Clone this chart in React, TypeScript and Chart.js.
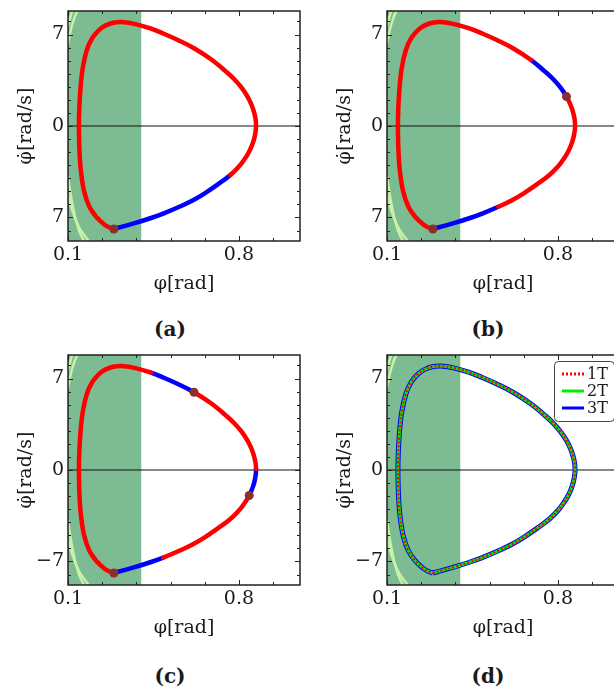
import React, { useEffect, useRef } from 'react';
import { Chart, registerables } from 'chart.js';
Chart.register(...registerables);

// ---------- data ----------
const orbitPhi = [
  0.288, 0.33, 0.38, 0.44, 0.49, 0.556, 0.61, 0.66, 0.715, 0.765,
  0.80, 0.826, 0.842, 0.855, 0.864, 0.869, 0.870, 0.868, 0.862, 0.852,
  0.835, 0.81, 0.78, 0.745, 0.69, 0.616, 0.55, 0.49, 0.44, 0.38,
  0.32, 0.285, 0.255, 0.23, 0.20, 0.177, 0.16, 0.15, 0.145, 0.146,
  0.152, 0.166, 0.188, 0.218, 0.25, 0.27, 0.288,
];
const orbitRate = [
  -7.88, -7.66, -7.40, -7.04, -6.70, -6.18, -5.70, -5.15, -4.45, -3.75,
  -3.1, -2.45, -1.95, -1.4, -0.85, -0.3, 0.1, 0.55, 1.05, 1.6,
  2.25, 2.95, 3.6, 4.2, 5.05, 5.95, 6.58, 7.08, 7.45, 7.78,
  7.95, 7.9, 7.7, 7.4, 6.75, 5.8, 4.4, 2.6, 0.6, -1.4,
  -3.3, -5.0, -6.2, -7.0, -7.55, -7.77, -7.88,
];

// light green boundary arcs at the left edge
const arcTop1Phi = [0.1, 0.108, 0.117];
const arcTop1Rate = [7.6, 8.2, 8.8];
const arcTop2Phi = [0.1, 0.112, 0.125, 0.138];
const arcTop2Rate = [6.3, 7.4, 8.2, 8.8];
const arcBot1Phi = [0.1, 0.108, 0.125, 0.145, 0.165];
const arcBot1Rate = [-3.8, -4.9, -6.6, -8.0, -8.8];
const arcBot2Phi = [0.1, 0.12, 0.15, 0.185];
const arcBot2Rate = [-5.3, -6.6, -7.9, -8.8];

const xMin = 0.1;
const xMax = 1.05;
const yMin = -8.8;
const yMax = 8.8;
const xTickValues = [0.1, 0.24, 0.38, 0.52, 0.66, 0.8, 0.94];
const xLabelValues = [0.1, 0.8];
const xLabelTexts = ['0.1', '0.8'];
const yTickValues = [-8, -7, -6, -5, -4, -3, -2, -1, 0, 1, 2, 3, 4, 5, 6, 7, 8];
const yLabelValues = [-7, 0, 7];
const greenZoneEnd = 0.4;

// blue (controlled) stretches as orbit index ranges, and marker indices
const blueA = [[0, 9]];
const blueB = [[0, 5], [20, 24]];
const blueC = [[0, 4], [12, 16], [25, 28]];
const dotsA = [0];
const dotsB = [0, 20];
const dotsC = [0, 12, 25];
const legendLabels = ['1T', '2T', '3T'];

// ---------- styles ----------
const FONT = "'DejaVu Serif', serif";
const TXT = '#1a1a1a';
const RED = '#ff0000';
const BLUE = '#0000ff';
const GREENLINE = '#00ee00';
const DOT = '#8b2e2e';
const ZONE = '#7dbb92';
const ARC = '#c9f2a8';

const zip = (xs: number[], ys: number[]) => xs.map((x, i) => ({ x, y: ys[i] }));

const framePlugin = {
  id: 'frame',
  beforeDatasetsDraw(chart: any) {
    const { ctx, chartArea: a, scales } = chart;
    const gx = scales.x.getPixelForValue(greenZoneEnd);
    ctx.save();
    ctx.fillStyle = ZONE;
    ctx.fillRect(a.left, a.top, gx - a.left, a.bottom - a.top);
    ctx.restore();
  },
  afterDatasetsDraw(chart: any) {
    const { ctx, chartArea: a, scales } = chart;
    const x = scales.x;
    const y = scales.y;
    ctx.save();
    ctx.strokeStyle = '#222';
    ctx.lineWidth = 1;
    ctx.beginPath();
    x.ticks.forEach((t: any) => {
      const px = Math.round(x.getPixelForValue(t.value)) + 0.5;
      const major = xLabelValues.some((v) => Math.abs(v - t.value) < 1e-6);
      const L = major ? 5 : 3;
      ctx.moveTo(px, a.bottom); ctx.lineTo(px, a.bottom - L);
      ctx.moveTo(px, a.top); ctx.lineTo(px, a.top + L);
    });
    y.ticks.forEach((t: any) => {
      const py = Math.round(y.getPixelForValue(t.value)) + 0.5;
      const major = yLabelValues.includes(t.value);
      const L = major ? 5 : 3;
      ctx.moveTo(a.left, py); ctx.lineTo(a.left + L, py);
      ctx.moveTo(a.right, py); ctx.lineTo(a.right - L, py);
    });
    ctx.stroke();
    ctx.lineWidth = 1.5;
    ctx.strokeStyle = '#222';
    ctx.strokeRect(a.left, a.top, a.right - a.left, a.bottom - a.top);
    ctx.restore();
  },
};

const legendPlugin = {
  id: 'insetLegend',
  afterDraw(chart: any, _args: any, opts: any) {
    if (!opts || !opts.show) return;
    const { ctx, chartArea: a } = chart;
    const items = chart.data.datasets.filter((d: any) => d.legendOrder !== undefined)
      .sort((p: any, q: any) => p.legendOrder - q.legendOrder);
    const bx = a.right - 65;
    const by = a.top + 6;
    const bw = 60;
    const bh = 60;
    ctx.save();
    ctx.fillStyle = '#fff';
    ctx.strokeStyle = '#444';
    ctx.lineWidth = 1;
    ctx.beginPath();
    ctx.roundRect(bx + 0.5, by + 0.5, bw, bh, 4);
    ctx.fill();
    ctx.stroke();
    ctx.font = `16px ${FONT}`;
    ctx.textBaseline = 'middle';
    ctx.textAlign = 'left';
    items.forEach((d: any, i: number) => {
      const ly = by + 13 + i * 17;
      ctx.strokeStyle = d.borderColor;
      ctx.lineWidth = 3;
      ctx.setLineDash(d.borderDash && d.borderDash.length ? [2, 2] : []);
      ctx.beginPath();
      ctx.moveTo(bx + 8, ly);
      ctx.lineTo(bx + 30, ly);
      ctx.stroke();
      ctx.setLineDash([]);
      ctx.fillStyle = TXT;
      ctx.fillText(d.label, bx + 33, ly + 1);
    });
    ctx.restore();
  },
};

type PanelCfg = {
  blue: number[][];
  dots: number[];
  legend: boolean;
  minus: boolean;
};

function buildConfig(p: PanelCfg): any {
  const orbit = zip(orbitPhi, orbitRate);
  const isBlue = (i: number) => p.blue.some(([s, e]) => i >= s && i < e);
  const arcStyle = { borderColor: ARC, borderWidth: 2.5, pointRadius: 0, showLine: true, tension: 0.4, clip: 0 };
  const datasets: any[] = [];
  if (!p.legend) {
    datasets.push({
      data: p.dots.map((i) => orbit[i]),
      pointRadius: 4.5, pointBackgroundColor: DOT, pointBorderWidth: 0, showLine: false,
    });
    datasets.push({
      data: orbit, showLine: true, pointRadius: 0, borderWidth: 4.5, tension: 0.4,
      borderColor: RED, borderCapStyle: 'round', borderJoinStyle: 'round', clip: 0,
      segment: { borderColor: (ctx: any) => (isBlue(ctx.p0DataIndex) ? BLUE : RED) },
    });
  } else {
    datasets.push({
      label: legendLabels[0], legendOrder: 0, data: orbit, showLine: true, pointRadius: 0,
      borderWidth: 2, borderDash: [2, 2], borderColor: RED, tension: 0.4, clip: 0,
    });
    datasets.push({
      label: legendLabels[1], legendOrder: 1, data: orbit, showLine: true, pointRadius: 0,
      borderWidth: 3, borderColor: GREENLINE, tension: 0.4, clip: 0,
    });
    datasets.push({
      label: legendLabels[2], legendOrder: 2, data: orbit, showLine: true, pointRadius: 0,
      borderWidth: 5, borderColor: BLUE, tension: 0.4, clip: 0,
    });
  }
  datasets.push({
    data: [{ x: xMin, y: 0 }, { x: xMax, y: 0 }], showLine: true, pointRadius: 0,
    borderColor: '#111', borderWidth: 1.2,
  });
  datasets.push({ data: zip(arcTop1Phi, arcTop1Rate), ...arcStyle });
  datasets.push({ data: zip(arcTop2Phi, arcTop2Rate), ...arcStyle });
  datasets.push({ data: zip(arcBot1Phi, arcBot1Rate), ...arcStyle });
  datasets.push({ data: zip(arcBot2Phi, arcBot2Rate), ...arcStyle });

  return {
    type: 'scatter',
    data: { datasets },
    plugins: [framePlugin, legendPlugin],
    options: {
      animation: false,
      responsive: false,
      events: [],
      layout: { padding: { top: 11, right: 10, bottom: 0, left: 0 } },
      plugins: {
        legend: { display: false },
        tooltip: { enabled: false },
        insetLegend: { show: p.legend },
      },
      scales: {
        x: {
          type: 'linear', min: xMin, max: xMax,
          grid: { display: false, drawTicks: false },
          border: { display: false },
          afterBuildTicks: (s: any) => { s.ticks = xTickValues.map((v) => ({ value: v })); },
          afterFit: (s: any) => { s.height = 56; s.paddingLeft = 0; s.paddingRight = 0; },
          ticks: {
            autoSkip: false, maxRotation: 0, padding: 3, color: TXT,
            font: { family: FONT, size: 19 },
            callback: (v: number) => {
              const k = xLabelValues.findIndex((w) => Math.abs(w - v) < 1e-6);
              return k >= 0 ? xLabelTexts[k] : '';
            },
          },
          title: {
            display: true, text: 'φ[rad]', color: TXT,
            font: { family: FONT, size: 19 }, padding: { top: 0, bottom: 2 },
          },
        },
        y: {
          type: 'linear', min: yMin, max: yMax,
          grid: { display: false, drawTicks: false },
          border: { display: false },
          afterBuildTicks: (s: any) => { s.ticks = yTickValues.map((v) => ({ value: v })); },
          afterFit: (s: any) => { s.width = 68; s.paddingTop = 0; s.paddingBottom = 0; },
          ticks: {
            autoSkip: false, padding: 4, color: TXT,
            font: { family: FONT, size: 19 },
            callback: (v: number) => {
              if (!yLabelValues.includes(v)) return '';
              if (v < 0) return p.minus ? '−' + Math.abs(v) : String(Math.abs(v));
              return String(v);
            },
          },
          title: {
            display: true, text: 'φ̇[rad/s]', color: TXT,
            font: { family: FONT, size: 19 }, padding: { top: 15, bottom: 0 },
          },
        },
      },
    },
  };
}

function Panel({ cfg, left, top }: { cfg: PanelCfg; left: number; top: number }) {
  const ref = useRef<HTMLCanvasElement>(null);
  useEffect(() => {
    if (!ref.current) return;
    const chart = new Chart(ref.current, buildConfig(cfg));
    return () => chart.destroy();
  }, []);
  return (
    <canvas ref={ref} width={310} height={297}
      style={{ position: 'absolute', left, top, width: 310, height: 297 }} />
  );
}

function Tag({ text, cx, cy }: { text: string; cx: number; cy: number }) {
  return (
    <div style={{
      position: 'absolute', left: cx - 50, top: cy - 12, width: 100, height: 24,
      lineHeight: '24px', textAlign: 'center', fontFamily: FONT, fontWeight: 'bold',
      fontSize: 20, color: TXT,
    }}>{text}</div>
  );
}

export default function App() {
  return (
    <div style={{ position: 'absolute', left: 0, top: 0, width: 614, height: 689, overflow: 'hidden', background: '#fff' }}>
      <Panel cfg={{ blue: blueA, dots: dotsA, legend: false, minus: false }} left={0} top={0} />
      <Panel cfg={{ blue: blueB, dots: dotsB, legend: false, minus: false }} left={319} top={0} />
      <Panel cfg={{ blue: blueC, dots: dotsC, legend: false, minus: true }} left={0} top={344} />
      <Panel cfg={{ blue: [], dots: [], legend: true, minus: true }} left={319} top={344} />
      <Tag text="(a)" cx={170} cy={329} />
      <Tag text="(b)" cx={488} cy={329} />
      <Tag text="(c)" cx={170} cy={676} />
      <Tag text="(d)" cx={488} cy={676} />
    </div>
  );
}
